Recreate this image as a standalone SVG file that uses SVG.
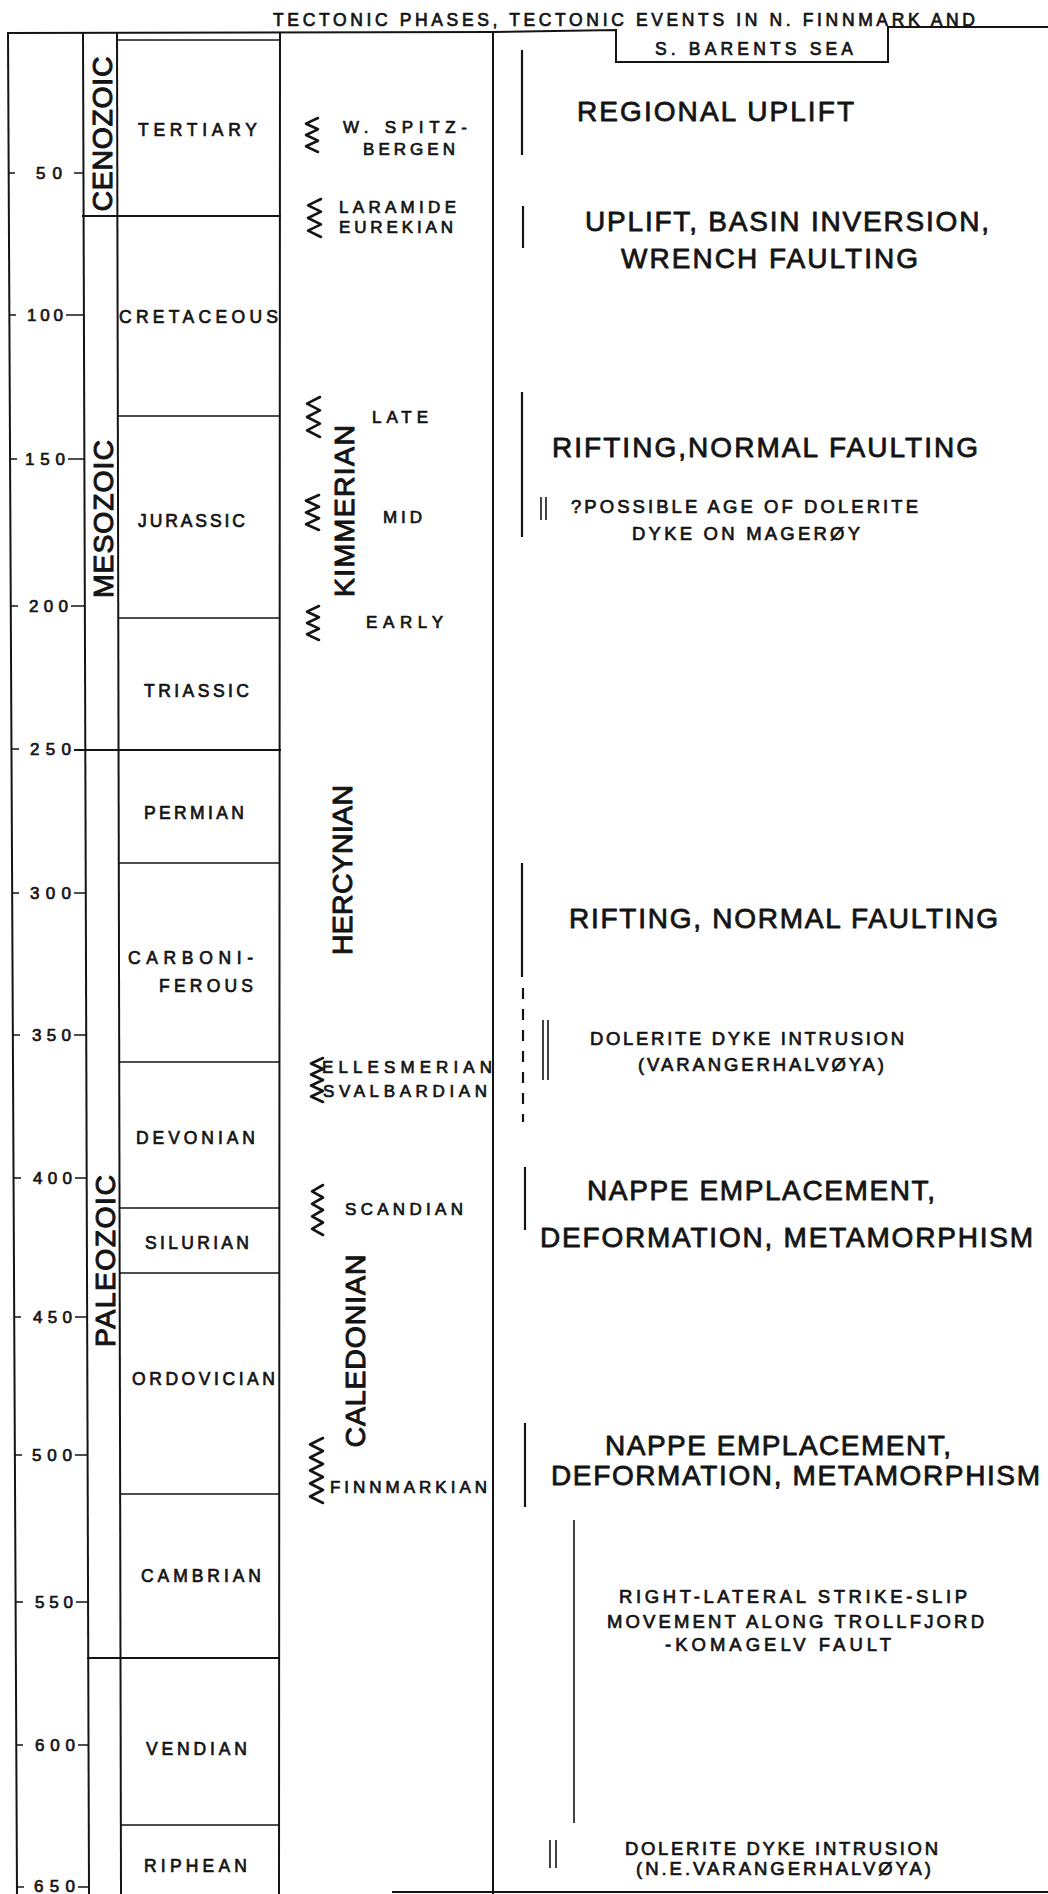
<svg xmlns="http://www.w3.org/2000/svg" width="1048" height="1894" viewBox="0 0 1048 1894">
  <style>
    .ln { stroke: #141414; stroke-width: 2; fill: none; stroke-linecap: square; }
    .lt { stroke: #141414; stroke-width: 1.6; fill: none; }
    .bar { stroke: #141414; stroke-width: 2.2; fill: none; }
    .dash { stroke: #141414; stroke-width: 2.2; fill: none; stroke-dasharray: 11 10; }
    .zz { stroke: #141414; stroke-width: 2.6; fill: none; stroke-linejoin: round; stroke-linecap: round; }
    text { font-family: "Liberation Sans", Arial, Helvetica, sans-serif; fill: #141414; stroke: #141414; stroke-width: 0.7; stroke-linejoin: round; }
    .hd { font-size: 17.5px; }
    .num { font-size: 17px; }
    .per { font-size: 17.5px; }
    .ph { font-size: 17px; }
    .big { font-size: 28px; stroke-width: 0.8; }
    .rot { font-size: 28.5px; text-anchor: middle; stroke-width: 1; }
    .sm { font-size: 18.5px; }
  </style>

  <rect x="0" y="0" width="1048" height="1894" fill="#ffffff"/>

  <!-- heading with the notched header box -->
  <g id="heading">
    <text class="hd" x="273" y="26" textLength="702" lengthAdjust="spacing">TECTONIC PHASES, TECTONIC EVENTS IN N. FINNMARK AND</text>
    <text class="hd" x="655" y="55" textLength="198" lengthAdjust="spacing">S. BARENTS SEA</text>
    <path class="ln" d="M8 33 L493 32 L616 30 L616 62 L888 62 L888 27 L1048 27"/>
  </g>

  <!-- column frame -->
  <g id="frame">
    <path class="ln" d="M8 33 L17 1894"/>
    <path class="ln" d="M83 33 L89 1894"/>
    <path class="ln" d="M117 33 L121 1894"/>
    <path class="ln" d="M280 33 L279 1894"/>
    <path class="ln" d="M493 32 L493 1894"/>
    <path class="ln" d="M393 1892 L1048 1892"/>
    <path class="lt" d="M117 40 L280 40"/>
  </g>

  <!-- age scale (Ma) -->
  <g id="age-scale">
    <path class="lt" d="M9 173 h6 M74 173 H84
                        M9 315 h7 M66 315 H84
                        M10 459 h7 M68 459 H84
                        M11 606 h7 M71 606 H85
                        M12 749 h7
                        M12 893 h7 M74 893 H86
                        M13 1035 h7 M74 1035 H86
                        M14 1178 h7 M75 1178 H87
                        M14 1317 h7 M75 1317 H87
                        M15 1455 h7 M75 1455 H88
                        M16 1602 h7 M76 1602 H88
                        M16 1745 h7 M78 1745 H89
                        M17 1887 h7 M78 1887 H89"/>
    <text class="num" x="36" y="179" textLength="26" lengthAdjust="spacing">50</text>
    <text class="num" x="27" y="321" textLength="36" lengthAdjust="spacing">100</text>
    <text class="num" x="25" y="465" textLength="40" lengthAdjust="spacing">150</text>
    <text class="num" x="29" y="612" textLength="39" lengthAdjust="spacing">200</text>
    <text class="num" x="30" y="755" textLength="41" lengthAdjust="spacing">250</text>
    <text class="num" x="30" y="899" textLength="41" lengthAdjust="spacing">300</text>
    <text class="num" x="32" y="1041" textLength="39" lengthAdjust="spacing">350</text>
    <text class="num" x="33" y="1184" textLength="39" lengthAdjust="spacing">400</text>
    <text class="num" x="33" y="1323" textLength="39" lengthAdjust="spacing">450</text>
    <text class="num" x="32" y="1461" textLength="40" lengthAdjust="spacing">500</text>
    <text class="num" x="35" y="1608" textLength="38" lengthAdjust="spacing">550</text>
    <text class="num" x="35" y="1751" textLength="40" lengthAdjust="spacing">600</text>
    <text class="num" x="34" y="1892" textLength="41" lengthAdjust="spacing">650</text>
  </g>

  <!-- eras -->
  <g id="eras">
    <path class="ln" d="M83 216 L280 216"/>
    <path class="ln" d="M75 750 L280 750"/>
    <path class="ln" d="M88 1658 L279 1658"/>
    <text class="rot" transform="translate(112 134) rotate(-90)" textLength="155" lengthAdjust="spacing">CENOZOIC</text>
    <text class="rot" transform="translate(113 519) rotate(-90)" textLength="158" lengthAdjust="spacing">MESOZOIC</text>
    <text class="rot" transform="translate(115 1261) rotate(-90)" textLength="172" lengthAdjust="spacing">PALEOZOIC</text>
  </g>

  <!-- periods -->
  <g id="periods">
    <path class="lt" d="M118 416 H280 M118 618 H280 M119 863 H280 M120 1062 H280 M120 1208 H280 M120 1273 H280 M121 1494 H280 M121 1825 H279"/>
    <text class="per" x="138" y="136" textLength="119" lengthAdjust="spacing">TERTIARY</text>
    <text class="per" x="119" y="323" textLength="159" lengthAdjust="spacing">CRETACEOUS</text>
    <text class="per" x="138" y="527" textLength="107" lengthAdjust="spacing">JURASSIC</text>
    <text class="per" x="144" y="697" textLength="105" lengthAdjust="spacing">TRIASSIC</text>
    <text class="per" x="144" y="819" textLength="100" lengthAdjust="spacing">PERMIAN</text>
    <text class="per" x="128" y="964" textLength="125" lengthAdjust="spacing">CARBONI-</text>
    <text class="per" x="159" y="992" textLength="94" lengthAdjust="spacing">FEROUS</text>
    <text class="per" x="136" y="1144" textLength="119" lengthAdjust="spacing">DEVONIAN</text>
    <text class="per" x="145" y="1249" textLength="104" lengthAdjust="spacing">SILURIAN</text>
    <text class="per" x="132" y="1385" textLength="143" lengthAdjust="spacing">ORDOVICIAN</text>
    <text class="per" x="141" y="1582" textLength="120" lengthAdjust="spacing">CAMBRIAN</text>
    <text class="per" x="146" y="1755" textLength="101" lengthAdjust="spacing">VENDIAN</text>
    <text class="per" x="144" y="1872" textLength="103" lengthAdjust="spacing">RIPHEAN</text>
  </g>

  <!-- tectonic phases -->
  <g id="phases">
    <g id="phase-spitzbergen">
      <polyline class="zz" points="318,118 306,123.7 318,129.3 306,135 318,140.7 306,146.3 318,152"/>
      <text class="ph" x="343" y="133" textLength="124" lengthAdjust="spacing">W. SPITZ-</text>
      <text class="ph" x="363" y="155" textLength="92" lengthAdjust="spacing">BERGEN</text>
    </g>
    <g id="phase-laramide">
      <polyline class="zz" points="321,199 308,205.3 321,211.7 308,218 321,224.3 308,230.7 321,237"/>
      <text class="ph" x="339" y="213" textLength="117" lengthAdjust="spacing">LARAMIDE</text>
      <text class="ph" x="339" y="233" textLength="114" lengthAdjust="spacing">EUREKIAN</text>
    </g>
    <g id="phase-kimmerian">
      <polyline class="zz" points="320,397 307,403.7 320,410.3 307,417 320,423.7 307,430.3 320,437"/>
      <polyline class="zz" points="319,495 306,500.8 319,506.7 306,512.5 319,518.3 306,524.2 319,530"/>
      <polyline class="zz" points="319,606 307,611.7 319,617.3 307,623 319,628.7 307,634.3 319,640"/>
      <text class="ph" x="372" y="423" textLength="56" lengthAdjust="spacing">LATE</text>
      <text class="ph" x="383" y="523" textLength="39" lengthAdjust="spacing">MID</text>
      <text class="ph" x="366" y="628" textLength="77" lengthAdjust="spacing">EARLY</text>
      <text class="rot" transform="translate(354 511) rotate(-90)" textLength="172" lengthAdjust="spacing">KIMMERIAN</text>
    </g>
    <g id="phase-hercynian">
      <text class="rot" transform="translate(352 870) rotate(-90)" textLength="170" lengthAdjust="spacing">HERCYNIAN</text>
      <polyline class="zz" points="323,1058 311,1063.5 323,1069 311,1074.5 323,1080 311,1085.5 323,1091 311,1096.5 323,1102"/>
      <text class="ph" x="322" y="1073" textLength="170" lengthAdjust="spacing">ELLESMERIAN</text>
      <text class="ph" x="323" y="1097" textLength="164" lengthAdjust="spacing">SVALBARDIAN</text>
    </g>
    <g id="phase-caledonian">
      <polyline class="zz" points="323,1185 312,1191.3 323,1197.5 312,1203.8 323,1210 312,1216.3 323,1222.5 312,1228.8 323,1235"/>
      <text class="ph" x="345" y="1215" textLength="118" lengthAdjust="spacing">SCANDIAN</text>
      <text class="rot" transform="translate(365 1351) rotate(-90)" textLength="193" lengthAdjust="spacing">CALEDONIAN</text>
      <polyline class="zz" points="323,1438 310,1444.5 323,1451 310,1457.5 323,1464 310,1470.5 323,1477 310,1483.5 323,1490 310,1496.5 323,1503"/>
      <text class="ph" x="330" y="1493" textLength="157" lengthAdjust="spacing">FINNMARKIAN</text>
    </g>
  </g>

  <!-- time-span bars of the events -->
  <g id="event-bars">
    <path class="bar" d="M522 50 V155"/>
    <path class="bar" d="M523 206 V248"/>
    <path class="bar" d="M522 392 V537"/>
    <path class="lt" d="M541 497 V520 M546 497 V520"/>
    <path class="bar" d="M522 863 V977"/>
    <path class="dash" d="M523 988 V1122"/>
    <path class="lt" d="M543 1020 V1080 M548 1020 V1080"/>
    <path class="bar" d="M525 1167 V1230"/>
    <path class="bar" d="M525 1423 V1507"/>
    <path class="lt" d="M574 1520 V1823"/>
    <path class="lt" d="M550 1840 V1868 M556 1840 V1868"/>
  </g>

  <!-- tectonic events -->
  <g id="events">
    <g id="ev-regional-uplift">
      <text class="big" x="577" y="121" textLength="277" lengthAdjust="spacing">REGIONAL UPLIFT</text>
    </g>
    <g id="ev-basin-inversion">
      <text class="big" x="585" y="231" textLength="404" lengthAdjust="spacing">UPLIFT, BASIN INVERSION,</text>
      <text class="big" x="621" y="268" textLength="297" lengthAdjust="spacing">WRENCH FAULTING</text>
    </g>
    <g id="ev-rifting-mesozoic">
      <text class="big" x="552" y="457" textLength="426" lengthAdjust="spacing">RIFTING,NORMAL FAULTING</text>
      <text class="sm" x="571" y="513" textLength="347" lengthAdjust="spacing">?POSSIBLE AGE OF DOLERITE</text>
      <text class="sm" x="632" y="540" textLength="228" lengthAdjust="spacing">DYKE ON MAGERØY</text>
    </g>
    <g id="ev-rifting-paleozoic">
      <text class="big" x="569" y="928" textLength="429" lengthAdjust="spacing">RIFTING, NORMAL FAULTING</text>
      <text class="sm" x="590" y="1045" textLength="314" lengthAdjust="spacing">DOLERITE DYKE INTRUSION</text>
      <text class="sm" x="638" y="1071" textLength="246" lengthAdjust="spacing">(VARANGERHALVØYA)</text>
    </g>
    <g id="ev-scandian">
      <text class="big" x="587" y="1200" textLength="348" lengthAdjust="spacing">NAPPE EMPLACEMENT,</text>
      <text class="big" x="540" y="1247" textLength="493" lengthAdjust="spacing">DEFORMATION, METAMORPHISM</text>
    </g>
    <g id="ev-finnmarkian">
      <text class="big" x="605" y="1455" textLength="346" lengthAdjust="spacing">NAPPE EMPLACEMENT,</text>
      <text class="big" x="551" y="1485" textLength="489" lengthAdjust="spacing">DEFORMATION, METAMORPHISM</text>
    </g>
    <g id="ev-trollfjord">
      <text class="sm" x="619" y="1603" textLength="348" lengthAdjust="spacing">RIGHT-LATERAL STRIKE-SLIP</text>
      <text class="sm" x="607" y="1628" textLength="377" lengthAdjust="spacing">MOVEMENT ALONG TROLLFJORD</text>
      <text class="sm" x="665" y="1651" textLength="226" lengthAdjust="spacing">-KOMAGELV FAULT</text>
    </g>
    <g id="ev-dyke-ne-varanger">
      <text class="sm" x="625" y="1855" textLength="313" lengthAdjust="spacing">DOLERITE DYKE INTRUSION</text>
      <text class="sm" x="636" y="1875" textLength="295" lengthAdjust="spacing">(N.E.VARANGERHALVØYA)</text>
    </g>
  </g>
</svg>
